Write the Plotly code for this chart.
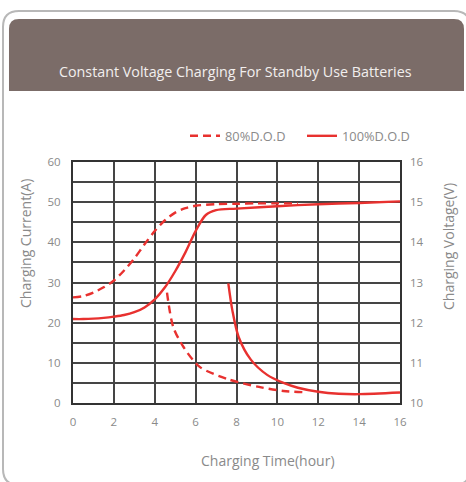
import plotly.graph_objects as go

# ---- data ----
time_v80 = [0, 0.5, 1, 1.5, 2, 2.5, 3, 3.5, 4, 4.5, 5, 5.5, 6, 7, 8, 9, 10, 11]
volt_80 = [12.63, 12.66, 12.75, 12.88, 13.05, 13.3, 13.6, 13.95, 14.28, 14.55, 14.74, 14.85, 14.91,
           14.95, 14.96, 14.97, 14.97, 14.97]

time_v100 = [0, 0.5, 1, 1.5, 2, 2.5, 3, 3.5, 4, 4.5, 5, 5.5, 6, 6.5, 7, 8, 10, 12, 14, 16]
volt_100 = [12.09, 12.09, 12.1, 12.12, 12.15, 12.19, 12.26, 12.38, 12.58, 12.88, 13.28, 13.75, 14.28,
            14.68, 14.8, 14.84, 14.9, 14.95, 14.98, 15.02]

time_i80 = [4.6, 4.9, 5.4, 6.2, 7.6, 9.1, 10.3, 11.3]
curr_80 = [27.5, 19.0, 14.0, 9.0, 5.9, 4.0, 3.0, 2.7]

time_i100 = [7.6, 7.8, 8.1, 8.7, 9.5, 10.3, 11.0, 12.0, 13.0, 14.0, 16.0]
curr_100 = [29.8, 23.0, 16.5, 10.8, 7.0, 5.0, 3.8, 2.8, 2.3, 2.2, 2.6]

x_ticks = [0, 2, 4, 6, 8, 10, 12, 14, 16]
cur_ticks = [0, 5, 10, 15, 20, 25, 30, 35, 40, 45, 50, 55, 60]
cur_labels = ["0", "", "10", "", "20", "", "30", "", "40", "", "50", "", "60"]
volt_ticks = [10, 11, 12, 13, 14, 15, 16]

title_text = "Constant Voltage Charging For Standby Use Batteries"
series_names = ["80%D.O.D", "100%D.O.D"]

# ---- layout geometry (pixels) ----
W, H = 466, 482
PL, PR, PT, PB = 73, 400, 162, 403
RED = "#e8312f"
GREY = "#8a8a8a"
FONT = "Open Sans"


def px(x):
    return (x - PL) / (PR - PL)


def py(y):
    return (PB - y) / (PB - PT)


def path(points):
    out = []
    for cmd, *coords in points:
        if cmd == "Z":
            out.append("Z")
            continue
        pts = []
        for i in range(0, len(coords), 2):
            pts.append(f"{px(coords[i]):.5f},{py(coords[i + 1]):.5f}")
        out.append(cmd + " ".join(pts))
    return " ".join(out)


def rounded_rect(x0, y0, x1, y1, r, bottom=True):
    pts = [("M", x0 + r, y0), ("L", x1 - r, y0), ("Q", x1, y0, x1, y0 + r)]
    if bottom:
        pts += [("L", x1, y1 - r), ("Q", x1, y1, x1 - r, y1), ("L", x0 + r, y1), ("Q", x0, y1, x0, y1 - r)]
    else:
        pts += [("L", x1, y1), ("L", x0, y1)]
    pts += [("L", x0, y0 + r), ("Q", x0, y0, x0 + r, y0), ("Z",)]
    return path(pts)


fig = go.Figure()

dash = "8px,5px"
fig.add_trace(go.Scatter(x=time_v80, y=volt_80, yaxis="y2", mode="lines",
                         line=dict(color=RED, width=2.4, dash=dash, shape="spline", smoothing=0.9),
                         name=series_names[0], legendgroup="a", showlegend=True))
fig.add_trace(go.Scatter(x=time_v100, y=volt_100, yaxis="y2", mode="lines",
                         line=dict(color=RED, width=2.4, shape="spline", smoothing=0.9),
                         name=series_names[1], legendgroup="b", showlegend=True))
fig.add_trace(go.Scatter(x=time_i80, y=curr_80, mode="lines",
                         line=dict(color=RED, width=2.4, dash=dash, shape="spline", smoothing=0.8),
                         name=series_names[0], legendgroup="a", showlegend=False))
fig.add_trace(go.Scatter(x=time_i100, y=curr_100, mode="lines",
                         line=dict(color=RED, width=2.4, shape="spline", smoothing=0.8),
                         name=series_names[1], legendgroup="b", showlegend=False))

shapes = [
    dict(type="path", xref="paper", yref="paper", path=rounded_rect(3, 11, 470, 485, 16),
         line=dict(color="#b8b8b8", width=2), fillcolor="rgba(0,0,0,0)", layer="below"),
    dict(type="path", xref="paper", yref="paper", path=rounded_rect(9, 19, 464, 91, 10, bottom=False),
         line=dict(width=0), fillcolor="#7b6c68", layer="below"),
]

annotations = [
    dict(text=title_text, xref="paper", yref="paper", x=px(235), y=py(71), showarrow=False,
         font=dict(family=FONT, size=14.3, color="#f2efee"), xanchor="center", yanchor="middle"),
    dict(text="Charging Current(A)", xref="paper", yref="paper", x=px(25), y=py(244), showarrow=False,
         textangle=-90, font=dict(family=FONT, size=14, color=GREY), xanchor="center", yanchor="middle"),
    dict(text="Charging Voltage(V)", xref="paper", yref="paper", x=px(448), y=py(247), showarrow=False,
         textangle=-90, font=dict(family=FONT, size=14, color=GREY), xanchor="center", yanchor="middle"),
    dict(text="Charging Time(hour)", xref="paper", yref="paper", x=px(268), y=py(460), showarrow=False,
         font=dict(family=FONT, size=14, color=GREY), xanchor="center", yanchor="middle"),
]

fig.update_layout(
    width=W, height=H,
    margin=dict(l=PL, r=W - PR, t=PT, b=H - PB, pad=0),
    paper_bgcolor="white", plot_bgcolor="white",
    font=dict(family=FONT, color=GREY, size=11),
    shapes=shapes, annotations=annotations,
    showlegend=True,
    legend=dict(orientation="h", x=px(185), y=py(136), xanchor="left", yanchor="middle",
                font=dict(family=FONT, size=12.8, color=GREY), entrywidth=72, entrywidthmode="pixels",
                bgcolor="rgba(0,0,0,0)", itemclick=False),
    xaxis=dict(range=[0, 16], tickmode="array", tickvals=x_ticks, showgrid=True,
               gridcolor="#454545", gridwidth=1.6, showline=True, linecolor="#333", linewidth=2,
               mirror=True, zeroline=False, ticks="", ticklabelstandoff=7,
               tickfont=dict(family=FONT, size=11.5, color=GREY)),
    yaxis=dict(range=[0, 60], tickmode="array", tickvals=cur_ticks, ticktext=cur_labels,
               showgrid=True, gridcolor="#454545", gridwidth=1.6, showline=True, linecolor="#333",
               linewidth=2, mirror=True, zeroline=False, ticks="", ticklabelstandoff=8,
               tickfont=dict(family=FONT, size=11.5, color=GREY)),
    yaxis2=dict(range=[10, 16], overlaying="y", side="right", tickmode="array", tickvals=volt_ticks,
                showgrid=False, showline=False, zeroline=False, ticks="", ticklabelstandoff=9,
                tickfont=dict(family=FONT, size=11.5, color=GREY)),
)

fig.write_html("out.html", config={"displayModeBar": False},
               post_script="document.body.style.margin='0px';document.body.style.overflow='hidden';")
